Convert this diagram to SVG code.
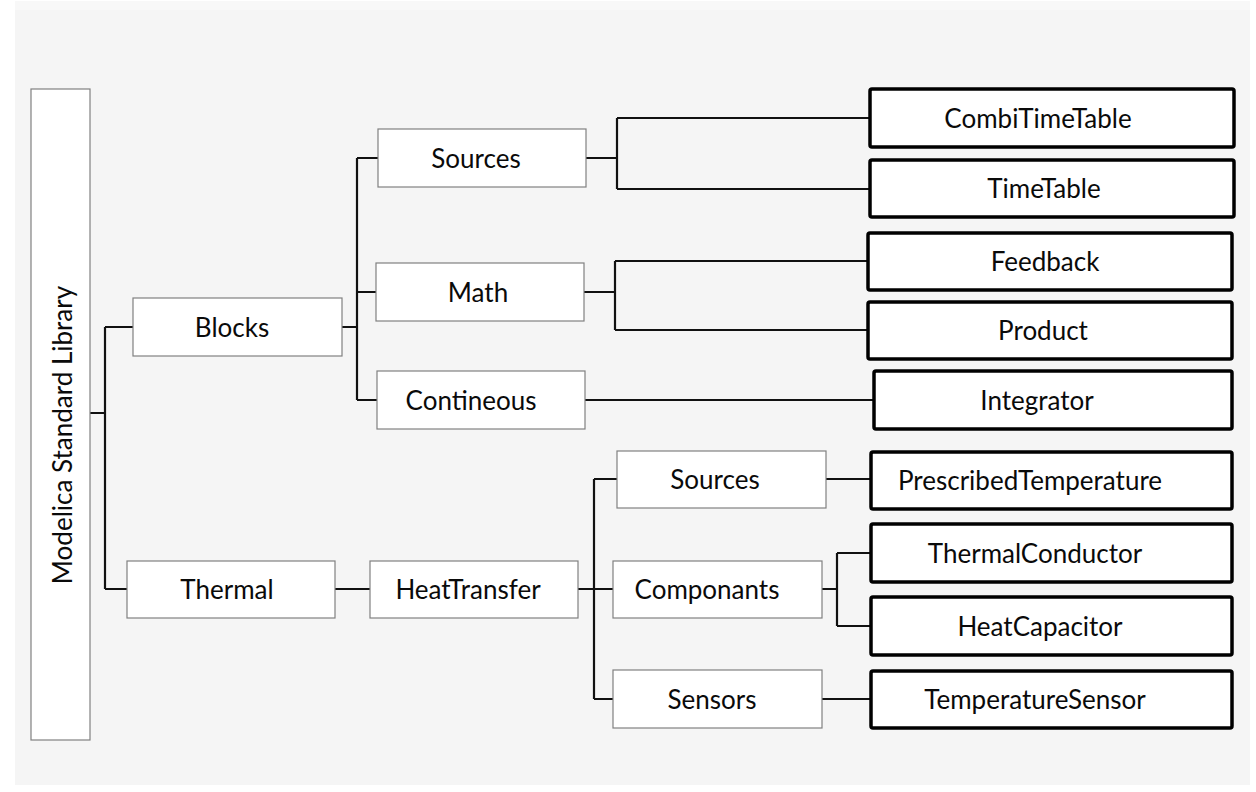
<svg xmlns="http://www.w3.org/2000/svg" width="1256" height="792" viewBox="0 0 1256 792">
<style>
.bg{fill:#f5f5f5}
.box{fill:#fff;stroke:#808080;stroke-width:1.2}
.leaf{fill:#fff;stroke:#000;stroke-width:3.5}
.t{font-family:Lato,"Open Sans",sans-serif;font-size:26px;fill:#0a0a0a;text-anchor:middle}
.c{fill:none;stroke:#111;stroke-width:2.2}
</style>
<rect x="0" y="0" width="1256" height="792" fill="#fff"/>
<rect class="bg" x="15" y="1" width="1235" height="784"/>
<rect x="15" y="1" width="1235" height="9" fill="#f8f8f8"/>
<g id="connectors">
<path class="c" d="M90,413H105M105,327V589M105,327H133M105,589H127"/>
<path class="c" d="M342,327H357M357,158V400M357,158H378M357,292H376M357,400H377"/>
<path class="c" d="M586,158H617M617,118V189M617,118H870M617,189H870"/>
<path class="c" d="M584,292H615M615,261V330M615,261H868M615,330H868"/>
<path class="c" d="M585,400H874"/>
<path class="c" d="M335,589H370"/>
<path class="c" d="M578,589H613M594,479V699M594,479H617M594,699H613"/>
<path class="c" d="M826,479H871"/>
<path class="c" d="M822,589H837M837,553V626M837,553H871M837,626H871"/>
<path class="c" d="M822,699H871"/>
</g>
<g id="modelica"><rect class="box" x="31" y="89" width="59" height="651"/><text class="t" transform="translate(72,435) rotate(-90)">Modelica Standard Library</text></g>
<g id="blocks"><rect class="box" x="133" y="298" width="209" height="58"/><text class="t" x="232" y="337">Blocks</text></g>
<g id="thermal"><rect class="box" x="127" y="561" width="208" height="57"/><text class="t" x="227" y="599">Thermal</text></g>
<g id="heattransfer"><rect class="box" x="370" y="561" width="208" height="57"/><text class="t" x="468" y="599">HeatTransfer</text></g>
<g id="b-sources"><rect class="box" x="378" y="129" width="208" height="58"/><text class="t" x="476" y="168">Sources</text></g>
<g id="math"><rect class="box" x="376" y="263" width="208" height="58"/><text class="t" x="478" y="302">Math</text></g>
<g id="contineous"><rect class="box" x="377" y="371" width="208" height="58"/><text class="t" x="471" y="410">Contineous</text></g>
<g id="t-sources"><rect class="box" x="617" y="451" width="209" height="57"/><text class="t" x="715" y="489">Sources</text></g>
<g id="componants"><rect class="box" x="613" y="561" width="209" height="57"/><text class="t" x="707" y="599">Componants</text></g>
<g id="sensors"><rect class="box" x="613" y="670" width="209" height="58"/><text class="t" x="712" y="709">Sensors</text></g>
<g id="combitimetable"><rect class="leaf" x="870" y="89" width="364" height="58" rx="2"/><text class="t" x="1038" y="128">CombiTimeTable</text></g>
<g id="timetable"><rect class="leaf" x="870" y="160" width="364" height="57" rx="2"/><text class="t" x="1044" y="198">TimeTable</text></g>
<g id="feedback"><rect class="leaf" x="868" y="233" width="364" height="57" rx="2"/><text class="t" x="1045" y="271">Feedback</text></g>
<g id="product"><rect class="leaf" x="868" y="302" width="364" height="57" rx="2"/><text class="t" x="1043" y="340">Product</text></g>
<g id="integrator"><rect class="leaf" x="874" y="371" width="358" height="58" rx="2"/><text class="t" x="1037" y="410">Integrator</text></g>
<g id="prescribedtemperature"><rect class="leaf" x="871" y="452" width="361" height="57" rx="2"/><text class="t" x="1030" y="490">PrescribedTemperature</text></g>
<g id="thermalconductor"><rect class="leaf" x="871" y="524" width="361" height="58" rx="2"/><text class="t" x="1035" y="563">ThermalConductor</text></g>
<g id="heatcapacitor"><rect class="leaf" x="871" y="597" width="361" height="58" rx="2"/><text class="t" x="1040" y="636">HeatCapacitor</text></g>
<g id="temperaturesensor"><rect class="leaf" x="871" y="671" width="361" height="57" rx="2"/><text class="t" x="1035" y="709">TemperatureSensor</text></g>
</svg>
